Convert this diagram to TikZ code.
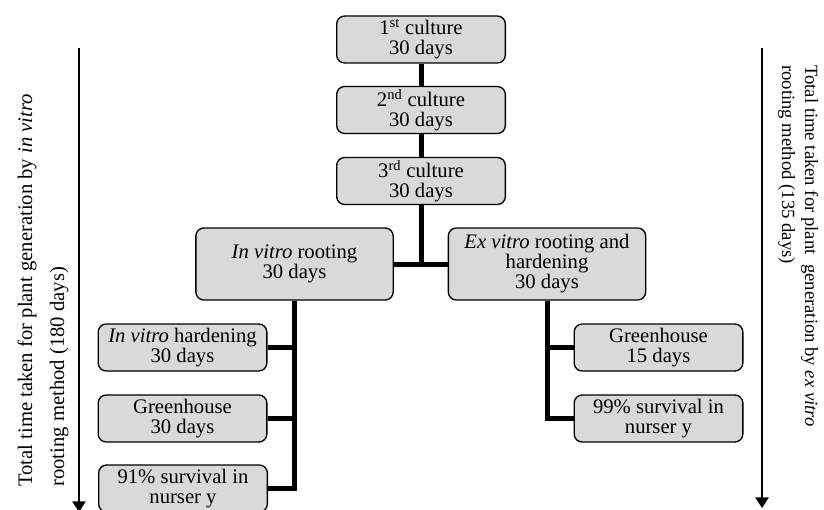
\documentclass[tikz,border=0pt]{standalone}
\usepackage{fontspec}
\setmainfont{Liberation Serif}
\usetikzlibrary{arrows.meta}
\definecolor{boxgray}{HTML}{D9D9D9}
\begin{document}
\begin{tikzpicture}[x=0.75pt,y=-0.75pt,
  box/.style={draw=black, line width=1pt, fill=boxgray, rounded corners=6pt,
    align=center, inner sep=0pt, font=\fontsize{15.5}{15}\selectfont},
  smallbox/.style={box, minimum width=126.5pt, minimum height=35.25pt},
  bigbox/.style={box, minimum width=148pt, minimum height=54pt},
  conn/.style={line width=3.75pt},
  timearrow/.style={line width=1.1pt, -{Triangle[width=10pt,length=8pt]}}]
\useasboundingbox (0,0) rectangle (824,510);
\clip (0,0) rectangle (824,510);

% culture boxes
\node[smallbox] (b1) at (421,39.5) {1\textsuperscript{st} culture\\30 days};
\node[smallbox] (b2) at (421,110) {2\textsuperscript{nd} culture\\30 days};
\node[smallbox] (b3) at (421,181) {3\textsuperscript{rd} culture\\30 days};

% rooting boxes
\node[bigbox] (ivr) at (294.5,264) {\textit{In vitro} rooting\\30 days};
\node[bigbox] (evr) at (547,264) {\textit{Ex vitro} rooting and\\hardening\\30 days};

% in vitro branch
\node[smallbox] (ivh) at (182.5,347.5) {\textit{In vitro} hardening\\30 days};
\node[smallbox] (gh1) at (182.5,418.5) {Greenhouse\\30 days};
\node[smallbox] (s91) at (183,488.5) {91\% survival in\\nurser y};

% ex vitro branch
\node[smallbox] (gh2) at (658.5,347.5) {Greenhouse\\15 days};
\node[smallbox] (s99) at (658.5,418.5) {99\% survival in\\nurser y};

% connectors
\draw[conn] (b1.south) -- (b2.north);
\draw[conn] (b2.south) -- (b3.north);
\draw[conn] (b3.south) -- (b3.south |- ivr.east);
\draw[conn] (ivr.east) -- (evr.west);
\draw[conn] (ivr.south) -- (ivr.south |- s91.east) -- (s91.east);
\draw[conn] (ivr.south |- ivh.east) -- (ivh.east);
\draw[conn] (ivr.south |- gh1.east) -- (gh1.east);
\draw[conn] (evr.south) -- (evr.south |- s99.west) -- (s99.west);
\draw[conn] (evr.south |- gh2.west) -- (gh2.west);

% time arrows
\coordinate (la1) at (79,48);
\coordinate (la2) at (79,512);
\coordinate (ra1) at (762,48);
\coordinate (ra2) at (762,508);
\draw[timearrow] (la1) -- (la2);
\draw[timearrow] (ra1) -- (ra2);

\node[rotate=90, anchor=base west, align=left, inner sep=0pt,
  font=\fontsize{15.5}{24}\selectfont] (lt) at (64,487)
  {Total time taken for plant generation by \textit{in vitro}\\rooting method (180 days)};
\node[rotate=-90, anchor=base west, align=left, inner sep=0pt,
  font=\fontsize{14}{17.25}\selectfont] (rt) at (782,65)
  {Total time taken for plant\ \ generation by \textit{ex vitro}\\rooting method (135 days)};
\end{tikzpicture}
\end{document}
